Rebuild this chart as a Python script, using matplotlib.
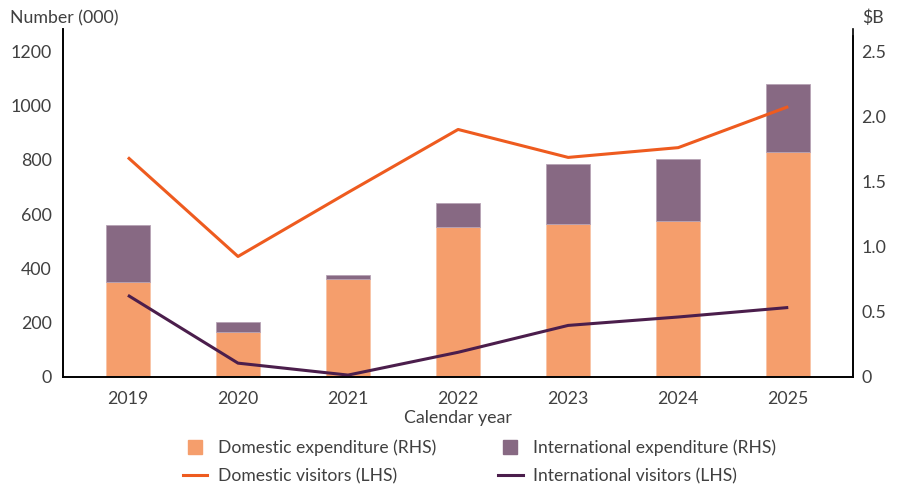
import numpy as np
import matplotlib.pyplot as plt
from matplotlib.lines import Line2D

plt.rcParams['font.family'] = ['Lato', 'DejaVu Sans']
plt.rcParams['font.weight'] = 'normal'

years = ['2019', '2020', '2021', '2022', '2023', '2024', '2025']
dom_exp = [0.728, 0.348, 0.751, 1.152, 1.175, 1.200, 1.724]      # $B
int_exp = [0.439, 0.074, 0.029, 0.185, 0.462, 0.470, 0.527]      # $B
dom_vis = [809, 444, 680, 912, 809, 845, 996]                    # 000
int_vis = [301, 51, 7, 91, 190, 221, 256]                        # 000

c_dom_bar = '#F59E6C'
c_int_bar = '#876983'
c_dom_line = '#EE5B1F'
c_int_line = '#4B1E4C'
c_txt = '#404040'

fig = plt.figure(figsize=(9, 4.88), dpi=100)
ax = fig.add_axes([0.07, 0.2275, 0.878, 0.713])
ax2 = ax.twinx()

x = np.arange(len(years))
# barras en el eje derecho
ax2.bar(x, dom_exp, width=0.4, color=c_dom_bar, edgecolor='#F8C4A6', linewidth=0.6, zorder=1)
ax2.bar(x, int_exp, width=0.4, bottom=dom_exp, color=c_int_bar, edgecolor='#B7A3B5', linewidth=0.6, zorder=1)

# lineas en el eje izquierdo, pero dibujadas encima
ax.set_zorder(ax2.get_zorder() + 1)
ax.patch.set_visible(False)
ax.plot(x, dom_vis, color=c_dom_line, lw=2.2, solid_capstyle='butt')
ax.plot(x, int_vis, color=c_int_line, lw=2.2, solid_capstyle='butt')

ax.set_xlim(-0.59, 6.59)
ax.set_ylim(0, 1282)
ax2.set_ylim(0, 1282 / 1200 * 2.5)
ax.set_yticks([0, 200, 400, 600, 800, 1000, 1200])
ax2.set_yticks([0, 0.5, 1.0, 1.5, 2.0, 2.5])
ax2.set_yticklabels(['0', '0.5', '1.0', '1.5', '2.0', '2.5'])
ax.set_xticks(x)
ax.set_xticklabels(years)

for a in (ax, ax2):
    a.spines['top'].set_visible(False)
    a.tick_params(length=0, labelsize=12.8, colors=c_txt, pad=8)
    for s in ('left', 'right', 'bottom'):
        a.spines[s].set_color('black')
        a.spines[s].set_linewidth(1.2)
ax.tick_params(axis='x', pad=10)
ax2.spines['right'].set_bounds(0, 2.62)
ax2.tick_params(axis='y', pad=6)

ax.set_xlabel('Calendar year', fontsize=12.8, color=c_txt, labelpad=2)
fig.text(0.011, 0.963, 'Number (000)', fontsize=12.8, color=c_txt, va='center', ha='left')
fig.text(0.958, 0.963, '$B', fontsize=12.8, color=c_txt, va='center', ha='left')

handles = [
    Line2D([], [], marker='s', ls='none', markersize=10, color=c_dom_bar),
    Line2D([], [], color=c_dom_line, lw=2.2),
    Line2D([], [], marker='s', ls='none', markersize=10, color=c_int_bar),
    Line2D([], [], color=c_int_line, lw=2.2),
]
labels = ['Domestic expenditure (RHS)', 'Domestic visitors (LHS)',
          'International expenditure (RHS)', 'International visitors (LHS)']
leg = fig.legend(handles, labels, ncol=2, loc='upper left', bbox_to_anchor=(0.203, 0.1),
                 frameon=False, fontsize=12.6, handlelength=1.4, handletextpad=0.6,
                 columnspacing=3.55, labelspacing=0.72, borderpad=0, borderaxespad=0)
for t in leg.get_texts():
    t.set_color(c_txt)

fig.savefig('out.png', dpi=100)
